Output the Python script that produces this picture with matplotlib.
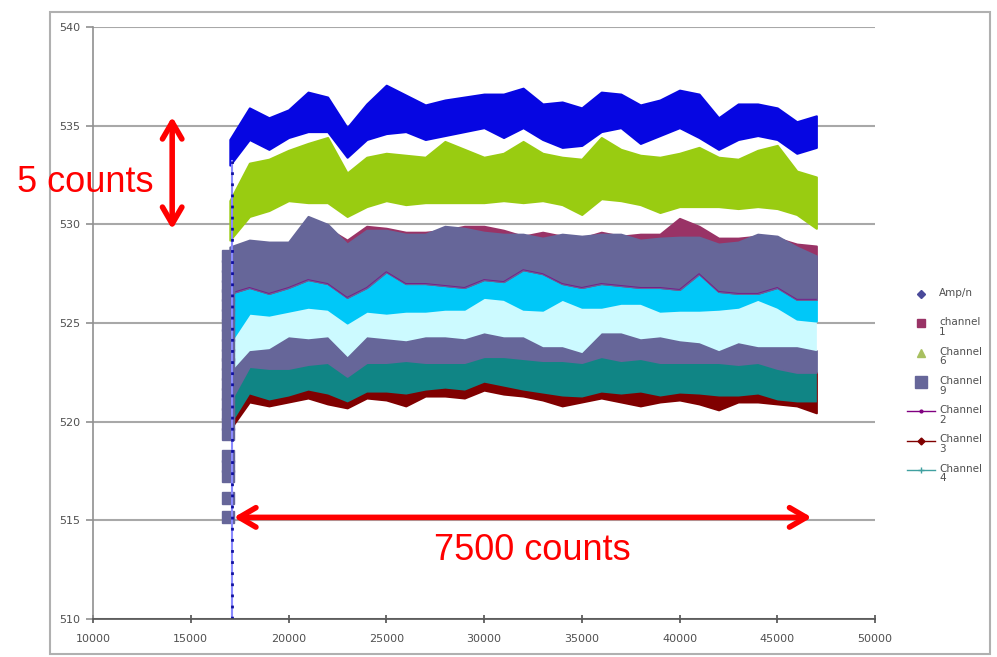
import matplotlib.pyplot as plt
from matplotlib.lines import Line2D
from matplotlib.patches import Rectangle

plt.rcParams['font.family'] = ['DejaVu Sans']

# 采样点 (每1000一个点)
x = list(range(17000, 48000, 1000))

# Amp/n 蓝色带
amp_top = [534.3, 535.9, 535.4, 535.8, 536.7, 536.45, 534.9, 536.1, 537.05, 536.55, 536.05,
           536.3, 536.45, 536.6, 536.6, 536.9, 536.1, 536.2, 535.9, 536.7, 536.6, 536.05,
           536.3, 536.8, 536.6, 535.4, 536.1, 536.1, 535.9, 535.2, 535.5]
amp_bot = [533.0, 534.3, 533.8, 534.4, 534.7, 534.7, 533.4, 534.3, 534.6, 534.7, 534.3,
           534.5, 534.7, 534.9, 534.4, 534.9, 534.3, 533.9, 534.0, 534.7, 534.9, 534.1,
           534.5, 534.9, 534.4, 533.8, 534.3, 534.5, 534.3, 533.6, 533.9]

# Channel 6 绿色带
ch6_top = [531.2, 533.1, 533.3, 533.75, 534.1, 534.4, 532.6, 533.4, 533.6, 533.5, 533.4,
           534.2, 533.8, 533.4, 533.6, 534.2, 533.6, 533.4, 533.3, 534.4, 533.8, 533.5,
           533.4, 533.6, 533.9, 533.4, 533.3, 533.75, 534.0, 532.7, 532.4]
ch6_bot = [529.2, 530.4, 530.7, 531.2, 531.1, 531.1, 530.4, 530.9, 531.2, 531.0, 531.1,
           531.1, 531.1, 531.1, 531.2, 531.1, 531.2, 531.0, 530.5, 531.3, 531.2, 531.0,
           530.6, 530.9, 530.9, 530.9, 530.8, 530.9, 530.8, 530.5, 529.8]

# channel 1 (上沿)
ch1_top = [528.6, 529.0, 528.9, 529.0, 530.2, 529.8, 529.2, 529.9, 529.8, 529.6, 529.6,
           529.7, 529.9, 529.9, 529.7, 529.4, 529.6, 529.4, 529.3, 529.6, 529.4, 529.5,
           529.5, 530.3, 529.9, 529.3, 529.3, 529.4, 529.3, 529.0, 528.9]

# 各带的分界线 (从上到下)
ch9_top = [528.85, 529.2, 529.1, 529.1, 530.4, 530.0, 529.0, 529.7, 529.7, 529.5, 529.5,
           529.9, 529.8, 529.6, 529.5, 529.5, 529.3, 529.5, 529.4, 529.5, 529.5, 529.2,
           529.3, 529.35, 529.35, 529.0, 529.1, 529.5, 529.4, 528.85, 528.4]
ch9_bot = [526.5, 526.8, 526.5, 526.8, 527.2, 527.0, 526.3, 526.8, 527.6, 527.0, 527.0,
           526.9, 526.8, 527.2, 527.1, 527.7, 527.5, 527.0, 526.8, 527.0, 526.9, 526.8,
           526.8, 526.7, 527.5, 526.6, 526.5, 526.5, 526.8, 526.2, 526.2]
cyan_bot = [524.0, 525.5, 525.4, 525.6, 525.8, 525.7, 525.0, 525.6, 525.5, 525.6, 525.6,
            525.7, 525.7, 526.3, 526.2, 525.7, 525.65, 526.2, 525.8, 525.8, 526.0, 526.0,
            525.6, 525.65, 525.65, 525.7, 525.8, 526.2, 525.8, 525.2, 525.1]
lcyan_bot = [522.5, 523.6, 523.7, 524.3, 524.2, 524.3, 523.3, 524.3, 524.2, 524.1, 524.3,
             524.3, 524.2, 524.5, 524.3, 524.3, 523.8, 523.8, 523.5, 524.5, 524.5, 524.2,
             524.3, 524.1, 524.0, 523.6, 524.0, 523.8, 523.8, 523.8, 523.6]
slate2_bot = [521.0, 522.8, 522.7, 522.7, 522.9, 523.0, 522.3, 523.0, 523.0, 523.1, 523.0,
              523.0, 523.0, 523.3, 523.3, 523.2, 523.1, 523.1, 523.0, 523.3, 523.1, 523.2,
              523.0, 523.0, 523.0, 523.0, 522.9, 523.0, 522.7, 522.5, 522.5]
teal_bot = [519.8, 521.4, 521.1, 521.3, 521.6, 521.4, 521.0, 521.5, 521.5, 521.4, 521.6,
            521.7, 521.6, 522.0, 521.8, 521.6, 521.45, 521.3, 521.25, 521.5, 521.4, 521.5,
            521.3, 521.45, 521.4, 521.3, 521.3, 521.4, 521.1, 521.0, 521.0]
ch3_bot = [519.6, 521.0, 520.8, 521.0, 521.2, 520.9, 520.7, 521.2, 521.1, 520.8, 521.3,
           521.3, 521.2, 521.6, 521.4, 521.3, 521.1, 520.8, 521.0, 521.2, 521.0, 520.8,
           521.0, 521.1, 520.9, 520.6, 521.0, 521.0, 520.9, 520.8, 520.45]

# 起始段 Channel 9 的方块
ch9_start_y = [515.15, 516.15, 517.25, 517.75, 518.25, 519.4, 519.9, 520.4, 520.9,
               521.4, 521.9, 522.4, 522.9, 523.4, 523.9, 524.4, 524.9, 525.4, 525.9,
               526.4, 526.9, 527.4, 527.9, 528.4]
amp_start_y = [510, 533.2]

legend_labels = ['Amp/n', 'channel\n1', 'Channel\n6', 'Channel\n9',
                 'Channel\n2', 'Channel\n3', 'Channel\n4']

# 颜色
c_amp = '#0606E2'
c_ch1 = '#993366'
c_ch6 = '#99CC11'
c_ch9 = '#666699'
c_ch2 = '#800080'
c_ch3 = '#800000'
c_ch4 = '#108585'
c_cyan = '#00C8F8'
c_lcyan = '#CCFAFF'

fig = plt.figure(figsize=(9.97, 6.57), dpi=100)
fig.patches.append(Rectangle((50 / 997, 3 / 657), 940 / 997, 642 / 657,
                             transform=fig.transFigure, fill=False,
                             edgecolor='#b0b0b0', linewidth=1.5))

ax = fig.add_axes([93 / 997, 1 - 619 / 657, (875 - 93) / 997, (619 - 27) / 657])

# 网格
ax.set_axisbelow(True)
ax.grid(axis='y', color='#a8a8a8', linewidth=1.5)

# 色带 (从下到上)
ax.fill_between(x, ch3_bot, slate2_bot, color=c_ch3, lw=1.5, edgecolor=c_ch3)
ax.fill_between(x, teal_bot, slate2_bot, color=c_ch4, lw=0)
ax.fill_between(x, slate2_bot, lcyan_bot, color=c_ch9, lw=1.5, edgecolor=c_ch9)
ax.fill_between(x, lcyan_bot, cyan_bot, color=c_lcyan, lw=0)
ax.fill_between(x, cyan_bot, ch9_bot, color=c_cyan, lw=1.5, edgecolor=c_cyan)
ax.fill_between(x, ch9_bot, ch1_top, color=c_ch1, lw=1.5, edgecolor=c_ch1)
ax.fill_between(x, ch9_bot, ch9_top, color=c_ch9, lw=1.5, edgecolor=c_ch9)
ax.plot(x, ch9_bot, color=c_ch2, lw=0.7, alpha=0.7)
ax.fill_between(x, ch6_bot, ch6_top, color=c_ch6, lw=1.5, edgecolor=c_ch6)
ax.fill_between(x, amp_bot, amp_top, color=c_amp, lw=1.5, edgecolor=c_amp)

# 起始段
ax.plot([16900] * len(ch9_start_y), ch9_start_y, 's', ms=8, color=c_ch9, mec=c_ch9)
ax.plot([17100, 17100], amp_start_y, color='#8a8aff', lw=1.5)
ax.plot([17100, 17100], amp_start_y, color='#1010a0', lw=2, dashes=(1, 3))

# 坐标轴
ax.set_xlim(10000, 50000)
ax.set_ylim(510, 540)
ax.set_xticks(range(10000, 50001, 5000))
ax.set_yticks(range(510, 541, 5))
for s in ['top', 'right']:
    ax.spines[s].set_visible(False)
ax.spines['left'].set_color('#909090')
ax.spines['bottom'].set_color('#505050')
ax.spines['left'].set_linewidth(1.2)
ax.spines['bottom'].set_linewidth(1.2)
ax.tick_params(axis='x', direction='inout', length=6, width=1.2, colors='#505050',
               labelsize=8, pad=8)
ax.tick_params(axis='y', direction='out', length=5, width=1.2, colors='#909090',
               labelcolor='#505050', labelsize=8, pad=4)

# 红色标注
ax.annotate('', xy=(14050, 535.45), xytext=(14050, 529.75),
            arrowprops=dict(arrowstyle='<->,head_length=0.6,head_width=0.35',
                            color='red', lw=4, mutation_scale=20,
                            shrinkA=0, shrinkB=0))
ax.annotate('', xy=(17200, 515.15), xytext=(46760, 515.15),
            arrowprops=dict(arrowstyle='<->,head_length=0.6,head_width=0.35',
                            color='red', lw=4, mutation_scale=20,
                            shrinkA=0, shrinkB=0))
fig.text(85 / 997, 1 - 183 / 657, '5 counts', color='red', fontsize=26,
         family='Liberation Sans', ha='center', va='center')
ax.text(32450, 513.45, '7500 counts', color='red', fontsize=26,
        family='Liberation Sans', ha='center', va='center')

# 图例 (手动)
handles = [
    dict(marker='D', ls='none', color='#4a4a9a', ms=4),
    dict(marker='s', ls='none', color=c_ch1, ms=6),
    dict(marker='^', ls='none', color='#a8c060', ms=6),
    dict(marker='s', ls='none', color=c_ch9, ms=8),
    dict(marker='.', ls='-', color=c_ch2, ms=4, lw=1),
    dict(marker='D', ls='-', color=c_ch3, ms=3.5, lw=1),
    dict(marker='+', ls='-', color='#40a0a0', ms=4, lw=1),
]
for i, (h, lab) in enumerate(zip(handles, legend_labels)):
    yp = 1 - (294 + i * 29.3) / 657
    if h['ls'] != 'none':
        fig.lines.append(Line2D([907 / 997, 935 / 997], [yp, yp],
                                transform=fig.transFigure, color=h['color'],
                                lw=h['lw']))
    fig.lines.append(Line2D([921 / 997], [yp], transform=fig.transFigure,
                            marker=h['marker'], color=h['color'], ms=h['ms'],
                            ls='none'))
    fig.text(939 / 997, yp + 6 / 657, lab, fontsize=7.5, color='#505050',
             va='top', ha='left', linespacing=0.95)

fig.savefig('out.png', dpi=100)
